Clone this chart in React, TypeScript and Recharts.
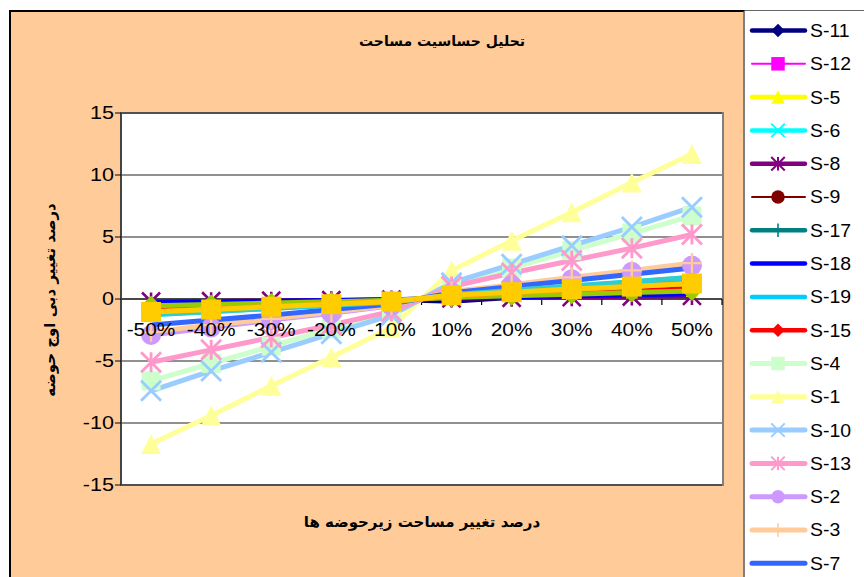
import React from 'react';
import { LineChart, Line, XAxis, YAxis, CartesianGrid, ReferenceLine } from 'recharts';

const categories = ['-50%', '-40%', '-30%', '-20%', '-10%', '10%', '20%', '30%', '40%', '50%'];
const yTicks = [-15, -10, -5, 0, 5, 10, 15];

const s11 = [-0.3, -0.24, -0.18, -0.12, -0.06, -0.2, 0.1, 0.2, 0.3, 0.4];
const s12 = [-0.72, -0.58, -0.43, -0.29, -0.14, 0.2, 0.4, 0.6, 0.8, 1.0];
const s5 = [-0.55, -0.44, -0.33, -0.22, -0.11, 0.13, 0.26, 0.39, 0.52, 0.65];
const s6 = [-1.28, -1.03, -0.77, -0.51, -0.26, 0.35, 0.7, 1.05, 1.4, 1.75];
const s8 = [-0.2, -0.18, -0.14, -0.1, -0.05, 0.05, 0.1, 0.15, 0.2, 0.25];
const s9 = [-1.0, -0.8, -0.6, -0.4, -0.2, 0.25, 0.5, 0.75, 1.0, 1.25];
const s17 = [-0.6, -0.5, -0.37, -0.25, -0.12, 0.16, 0.32, 0.48, 0.65, 0.8];
const s18 = [-0.27, -0.22, -0.16, -0.11, -0.05, 0.08, 0.16, 0.24, 0.32, 0.4];
const s19 = [-1.2, -0.97, -0.72, -0.48, -0.24, 0.32, 0.65, 0.98, 1.3, 1.6];
const s15 = [-0.72, -0.58, -0.43, -0.29, -0.14, 0.2, 0.4, 0.6, 0.8, 1.0];
const s4 = [-6.6, -5.2, -3.8, -2.4, -1.0, 1.1, 2.5, 3.9, 5.3, 6.7];
const s1 = [-11.7, -9.4, -7.0, -4.7, -2.3, 2.3, 4.7, 7.0, 9.4, 11.7];
const s10 = [-7.4, -5.8, -4.3, -2.8, -1.3, 1.3, 2.8, 4.3, 5.8, 7.4];
const s13 = [-5.1, -4.1, -3.1, -2.1, -1.0, 1.0, 2.1, 3.1, 4.1, 5.2];
const s2 = [-2.9, -2.3, -1.7, -1.15, -0.55, 0.55, 1.1, 1.6, 2.2, 2.7];
const s3 = [-2.65, -2.1, -1.6, -1.05, -0.5, 0.6, 1.15, 1.75, 2.3, 2.9];
const s7 = [-2.1, -1.7, -1.3, -0.85, -0.4, 0.5, 1.0, 1.5, 2.0, 2.5];
const s14 = [-1.28, -1.03, -0.77, -0.51, -0.26, 0.35, 0.7, 1.05, 1.4, 1.75];
const s16 = [-0.55, -0.44, -0.33, -0.22, -0.11, 0.13, 0.26, 0.39, 0.52, 0.65];
const s20 = [-1.0, -0.8, -0.6, -0.4, -0.2, 0.25, 0.5, 0.75, 1.0, 1.25];
const s21 = [-1.05, -0.85, -0.62, -0.42, -0.2, 0.3, 0.55, 0.8, 1.0, 1.25];

type MarkerType = 'diamond' | 'square' | 'triangle' | 'x' | 'star' | 'circle' | 'plus' | 'none';
interface SeriesDef {
  key: string; name: string; values: number[]; color: string; width: number;
  marker: MarkerType; size: number; legend: boolean;
}

const seriesDefs: SeriesDef[] = [
  { key: 's11', name: 'S-11', values: s11, color: '#000080', width: 4.5, marker: 'diamond', size: 12, legend: true },
  { key: 's12', name: 'S-12', values: s12, color: '#FF00FF', width: 2, marker: 'square', size: 12, legend: true },
  { key: 's5', name: 'S-5', values: s5, color: '#FFFF00', width: 4.5, marker: 'triangle', size: 12, legend: true },
  { key: 's6', name: 'S-6', values: s6, color: '#00FFFF', width: 4.5, marker: 'x', size: 12, legend: true },
  { key: 's8', name: 'S-8', values: s8, color: '#800080', width: 4.5, marker: 'star', size: 18, legend: true },
  { key: 's9', name: 'S-9', values: s9, color: '#800000', width: 2, marker: 'circle', size: 12, legend: true },
  { key: 's17', name: 'S-17', values: s17, color: '#008080', width: 4.5, marker: 'plus', size: 12, legend: true },
  { key: 's18', name: 'S-18', values: s18, color: '#0000FF', width: 4.5, marker: 'none', size: 12, legend: true },
  { key: 's19', name: 'S-19', values: s19, color: '#00CCFF', width: 4.5, marker: 'none', size: 12, legend: true },
  { key: 's15', name: 'S-15', values: s15, color: '#FF0000', width: 4.5, marker: 'diamond', size: 12, legend: true },
  { key: 's4', name: 'S-4', values: s4, color: '#CCFFCC', width: 5, marker: 'square', size: 19, legend: true },
  { key: 's1', name: 'S-1', values: s1, color: '#FFFF99', width: 5, marker: 'triangle', size: 20, legend: true },
  { key: 's10', name: 'S-10', values: s10, color: '#99CCFF', width: 5, marker: 'x', size: 20, legend: true },
  { key: 's13', name: 'S-13', values: s13, color: '#FF99CC', width: 5, marker: 'star', size: 20, legend: true },
  { key: 's2', name: 'S-2', values: s2, color: '#CC99FF', width: 5, marker: 'circle', size: 20, legend: true },
  { key: 's3', name: 'S-3', values: s3, color: '#FFCC99', width: 5, marker: 'plus', size: 20, legend: true },
  { key: 's7', name: 'S-7', values: s7, color: '#3366FF', width: 5, marker: 'none', size: 12, legend: true },
  { key: 's14', name: 'S-14', values: s14, color: '#33CCCC', width: 5, marker: 'none', size: 12, legend: false },
  { key: 's16', name: 'S-16', values: s16, color: '#99CC00', width: 5, marker: 'diamond', size: 20, legend: false },
  { key: 's20', name: 'S-20', values: s20, color: '#FF9900', width: 5, marker: 'triangle', size: 12, legend: false },
  { key: 's21', name: 'S-21', values: s21, color: '#FFCC00', width: 5, marker: 'square', size: 20, legend: false },
];

const data = categories.map((c, i) => {
  const row: Record<string, number | string> = { cat: c };
  seriesDefs.forEach((s) => { row[s.key] = s.values[i]; });
  return row;
});

function Marker({ type, cx, cy, size, color }: { type: MarkerType; cx: number; cy: number; size: number; color: string }) {
  const h = size / 2;
  const sw = Math.max(2, size / 7);
  switch (type) {
    case 'diamond':
      return <polygon points={`${cx},${cy - h} ${cx + h},${cy} ${cx},${cy + h} ${cx - h},${cy}`} fill={color} />;
    case 'square':
      return <rect x={cx - h} y={cy - h} width={size} height={size} fill={color} />;
    case 'triangle':
      return <polygon points={`${cx},${cy - h} ${cx + h},${cy + h} ${cx - h},${cy + h}`} fill={color} />;
    case 'x':
      return <path d={`M${cx - h},${cy - h}L${cx + h},${cy + h}M${cx - h},${cy + h}L${cx + h},${cy - h}`} stroke={color} strokeWidth={sw} fill="none" />;
    case 'star':
      return <path d={`M${cx - h},${cy - h}L${cx + h},${cy + h}M${cx - h},${cy + h}L${cx + h},${cy - h}M${cx},${cy - h}L${cx},${cy + h}`} stroke={color} strokeWidth={sw} fill="none" />;
    case 'circle':
      return <circle cx={cx} cy={cy} r={h} fill={color} />;
    case 'plus':
      return <path d={`M${cx - h},${cy}L${cx + h},${cy}M${cx},${cy - h}L${cx},${cy + h}`} stroke={color} strokeWidth={sw * 0.8} fill="none" />;
    default:
      return <g />;
  }
}

const arabicFont = "'DejaVu Sans', sans-serif";
const latinFont = "'Liberation Sans', Arial, sans-serif";
const chartMargin = { top: 113, right: 142, bottom: 92, left: 61 };

function YTick(props: any) {
  const { x, y, payload } = props;
  return (
    <text x={x} y={y} dy="0.36em" textAnchor="end" fontFamily={latinFont} fontSize={18} fill="#000"
      transform={`translate(${x},${y}) scale(1.2,1) translate(${-x},${-y})`}>
      {payload.value}
    </text>
  );
}

function ZeroTicks(props: any) {
  const vb = props.viewBox || {};
  const x0 = vb.x ?? 0;
  const y0 = vb.y ?? 0;
  const w = vb.width ?? 0;
  const n = categories.length;
  const step = w / n;
  return (
    <g>
      {Array.from({ length: n + 1 }).map((_, i) => (
        <line key={`t${i}`} x1={x0 + i * step} x2={x0 + i * step} y1={y0} y2={y0 + 6} stroke="#000" strokeWidth={1.2} />
      ))}
    </g>
  );
}

function ZeroLabels(props: any) {
  const vb = props.viewBox || {};
  const x0 = vb.x ?? 0;
  const y0 = vb.y ?? 0;
  const w = vb.width ?? 0;
  const n = categories.length;
  const step = w / n;
  return (
    <g>
      {categories.map((c, i) => {
        const cx = x0 + (i + 0.5) * step;
        return (
          <text key={`l${i}`} x={cx} y={y0 + 37} textAnchor="middle" fontFamily={latinFont} fontSize={19} fill="#000"
            transform={`translate(${cx},0) scale(1.1,1) translate(${-cx},0)`}>
            {c}
          </text>
        );
      })}
    </g>
  );
}

function LegendBox() {
  const items = seriesDefs.filter((s) => s.legend);
  return (
    <svg width={120} height={566} style={{ position: 'absolute', left: 744, top: 11 }}>
      {items.map((s, i) => {
        const cy = 19.5 + i * 33.3;
        return (
          <g key={s.key}>
            <line x1={8} x2={61} y1={cy} y2={cy} stroke={s.color} strokeWidth={s.width} strokeLinecap="round" />
            <Marker type={s.marker} cx={34} cy={cy} size={13.5} color={s.color} />
            <text x={66} y={cy + 6.5} fontFamily={latinFont} fontSize={18} fill="#000"
              transform={`translate(66,0) scale(1.08,1) translate(-66,0)`}>{s.name}</text>
          </g>
        );
      })}
    </svg>
  );
}

const layer: React.CSSProperties = { position: 'absolute', left: 0, top: 0 };

export default function App() {
  return (
    <div style={{ position: 'absolute', left: 0, top: 0, width: 864, height: 577, background: '#fff', overflow: 'hidden' }}>
      <div style={{ position: 'absolute', left: 9, top: 10, width: 736, height: 570, background: '#FFCC99', borderTop: '2px solid #000', borderLeft: '2px solid #000', borderRight: '2px solid #808080', boxSizing: 'border-box' }} />
      <div style={{ position: 'absolute', left: 745, top: 10, width: 119, height: 1, background: '#666' }} />
      <div style={{ position: 'absolute', left: 120, top: 112, width: 604, height: 374, background: '#fff', border: '2px solid #808080', boxSizing: 'border-box' }} />
      {/* underlay: grid, y axis, zero axis with ticks */}
      <div style={layer}>
        <LineChart width={864} height={577} data={data} margin={chartMargin}>
          <CartesianGrid horizontal vertical={false} stroke="#222" strokeWidth={1.2} />
          <XAxis dataKey="cat" hide />
          <YAxis width={60} domain={[-15, 15]} ticks={yTicks} interval={0} tickSize={6} tickMargin={1}
            axisLine={{ stroke: '#444', strokeWidth: 2 }} tickLine={{ stroke: '#000' }} tick={<YTick />} />
          <Line dataKey="s1" stroke="#000" strokeOpacity={0} dot={false} activeDot={false} isAnimationActive={false} legendType="none" />
          <ReferenceLine y={0} stroke="#000" strokeWidth={1.2} label={(p: any) => <ZeroTicks {...p} />} />
        </LineChart>
      </div>
      {/* series */}
      <div style={layer}>
        <LineChart width={864} height={577} data={data} margin={chartMargin}>
          <XAxis dataKey="cat" hide scale="band" />
          <YAxis width={60} domain={[-15, 15]} ticks={yTicks} axisLine={false} tickLine={false} tick={false} />
          {seriesDefs.map((s) => (
            <Line key={s.key} dataKey={s.key} name={s.name} type="linear" stroke={s.color} strokeWidth={s.width}
              isAnimationActive={false} activeDot={false}
              dot={(p: any) => <Marker key={`${s.key}-${p.index}`} type={s.marker} cx={p.cx} cy={p.cy} size={s.size} color={s.color} />} />
          ))}
        </LineChart>
      </div>
      {/* overlay: category labels and titles */}
      <div style={layer}>
        <LineChart width={864} height={577} data={data} margin={chartMargin}>
          <XAxis dataKey="cat" hide />
          <YAxis width={60} domain={[-15, 15]} ticks={yTicks} axisLine={false} tickLine={false} tick={false} />
          <Line dataKey="s1" stroke="#000" strokeOpacity={0} dot={false} activeDot={false} isAnimationActive={false} legendType="none" />
          <ReferenceLine y={0} stroke="#000" strokeOpacity={0} strokeWidth={1} label={(p: any) => <ZeroLabels {...p} />} />
          <text x={442} y={46} textAnchor="middle" fontFamily={arabicFont} fontWeight="bold" fontSize={14} fill="#000">تحلیل حساسیت مساحت</text>
          <text x={422} y={527} textAnchor="middle" fontFamily={arabicFont} fontWeight="bold" fontSize={15} fill="#000">درصد تغییر مساحت زیرحوضه ها</text>
          <text x={50} y={300} textAnchor="middle" dominantBaseline="middle" fontFamily={arabicFont} fontWeight="bold" fontSize={15} fill="#000"
            transform="rotate(-90 50 300)">درصد تغییر دبی اوج حوضه</text>
        </LineChart>
      </div>
      <LegendBox />
    </div>
  );
}
